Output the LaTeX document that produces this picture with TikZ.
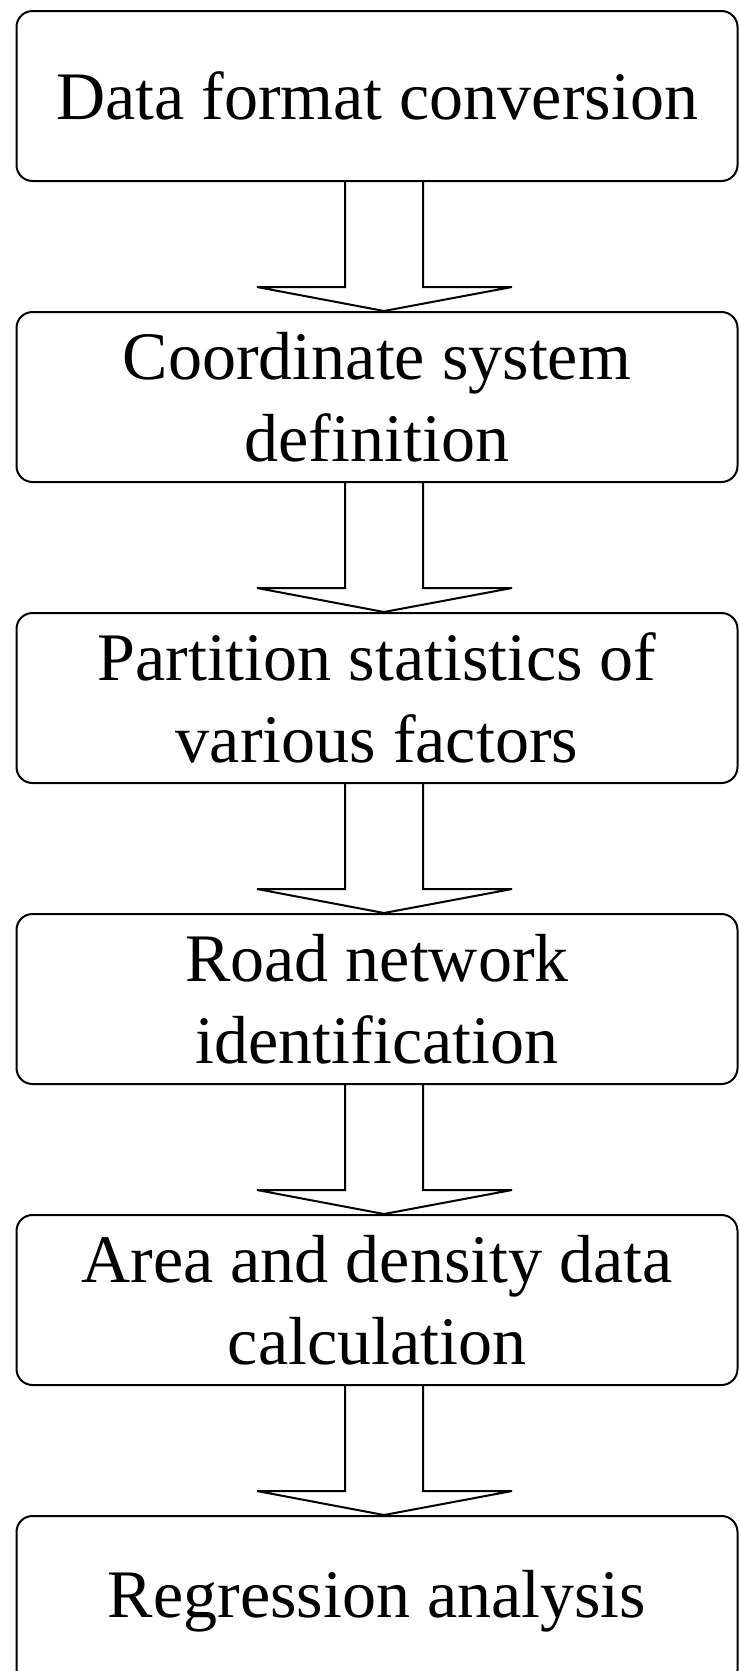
\documentclass[tikz,border=0pt]{standalone}
\usepackage{fontspec}
\setmainfont{Liberation Serif}
\usetikzlibrary{positioning,calc}

\begin{document}
\begin{tikzpicture}[x=1pt,y=1pt,
    stepbox/.style={draw,line width=2pt,rounded corners=16pt,minimum width=721pt,
        minimum height=170pt,align=center,inner sep=0pt,
        font=\fontsize{68}{82}\selectfont},
    blockarrow/.style={line width=2pt}]

    % Frame of the page
    \useasboundingbox (0,0) rectangle (739,-1671);
    \clip (0,0) rectangle (739,-1671);

    % The six steps
    \node[stepbox] (conv) at (377,-96) {Data format conversion};
    \node[stepbox,below=129pt of conv] (coord) {Coordinate system\\definition};
    \node[stepbox,below=129pt of coord] (part) {Partition statistics of\\various factors};
    \node[stepbox,below=129pt of part] (road) {Road network\\identification};
    \node[stepbox,below=129pt of road] (area) {Area and density data\\calculation};
    \node[stepbox,below=129pt of area] (regr) {Regression analysis};

    % Hollow arrows between the steps
    \foreach \a/\b in {conv/coord,coord/part,part/road,road/area,area/regr}
        \draw[blockarrow] ($(\a.south)+(-32,0)$) -- ($(\b.north)+(-32,24)$)
            -- ($(\b.north)+(-120,24)$) -- ($(\b.north)+(7,0)$)
            -- ($(\b.north)+(135,24)$) -- ($(\b.north)+(46,24)$)
            -- ($(\a.south)+(46,0)$);

\end{tikzpicture}
\end{document}
